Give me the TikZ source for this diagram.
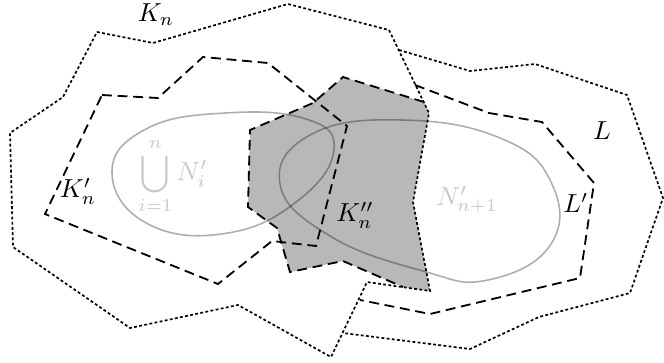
\documentclass[tikz,border=0pt]{standalone}
\usepackage{amsmath}
\usepackage{amssymb}
\usepackage{tikz}

\begin{document}
\begin{tikzpicture}[
  x=0.0135cm, y=-0.0135cm,
  lbl/.style   ={inner sep=0pt},
  faint/.style ={lbl, text=black!22},
  outer/.style ={line width=0.65pt, dash pattern=on 1.1pt off 0.9pt},
  inner/.style ={line width=0.7pt, dash pattern=on 3.8pt off 2.2pt},
  blob/.style  ={draw=black, draw opacity=0.32, line width=0.6pt},
]
\useasboundingbox (0,0) rectangle (664,362);

% --- shaded piece K_n'' (right side lies on K_n) ---
\fill[black!28] (250,130) -- (313,103) -- (343,77) -- (424,102) -- (429,113)
  -- (413,202) -- (430,291) -- (403,287) -- (343,261) -- (290,272)
  -- (277,228) -- (248,207) -- cycle;

% --- the two gray sets ---
\draw[blob] plot[smooth cycle, tension=0.75] coordinates {
  (112,173) (146,129) (225,113) (306,119) (334,149)
  (300,199) (228,233) (148,224)};
\draw[blob] plot[smooth cycle, tension=0.75] coordinates {
  (280,184) (312,134) (402,120) (500,138) (551,182)
  (551,244) (488,280) (423,271) (330,236)};

% --- dashed sets K_n' and L' ---
\draw[inner] (102,95) -- (158,98) -- (203,57) -- (268,63) -- (347,126)
  -- (316,246) -- (272,241) -- (218,284) -- (45,214) -- cycle;
\draw[inner] (415,85) -- (489,113) -- (542,122) -- (594,183) -- (580,278)
  -- (430,314) -- (360,300);
\draw[inner] (424,102) -- (343,77) -- (313,103) -- (250,130) -- (248,207)
  -- (277,228) -- (290,272) -- (343,261) -- (403,287);

% --- dotted sets K_n and L ---
\draw[outer] (97,32) -- (153,43) -- (288,4) -- (389,30) -- (429,113)
  -- (413,202) -- (430,291) -- (367,282) -- (331,357) -- (238,305)
  -- (130,328) -- (13,247) -- (10,133) -- (63,97) -- cycle;
\draw[outer] (399,50) -- (470,71) -- (535,64) -- (627,95) -- (663,198)
  -- (630,293) -- (539,317) -- (470,349) -- (343,333);

% --- labels ---
\node[lbl] (kn)    at (156,15)  {$K_n$};
\node[lbl] (knp)   at (78,191)  {$K'_n$};
\node[lbl] (knpp)  at (355,215) {$K''_n$};
\node[lbl] (ll)    at (602,131) {$L$};
\node[lbl] (llp)   at (576,203) {$L'$};
\node[faint] (uni) at (173,176) {$\displaystyle\bigcup_{i=1}^{n} N'_i$};
\node[faint] (nxt) at (467,200) {$N'_{n+1}$};

\end{tikzpicture}
\end{document}
